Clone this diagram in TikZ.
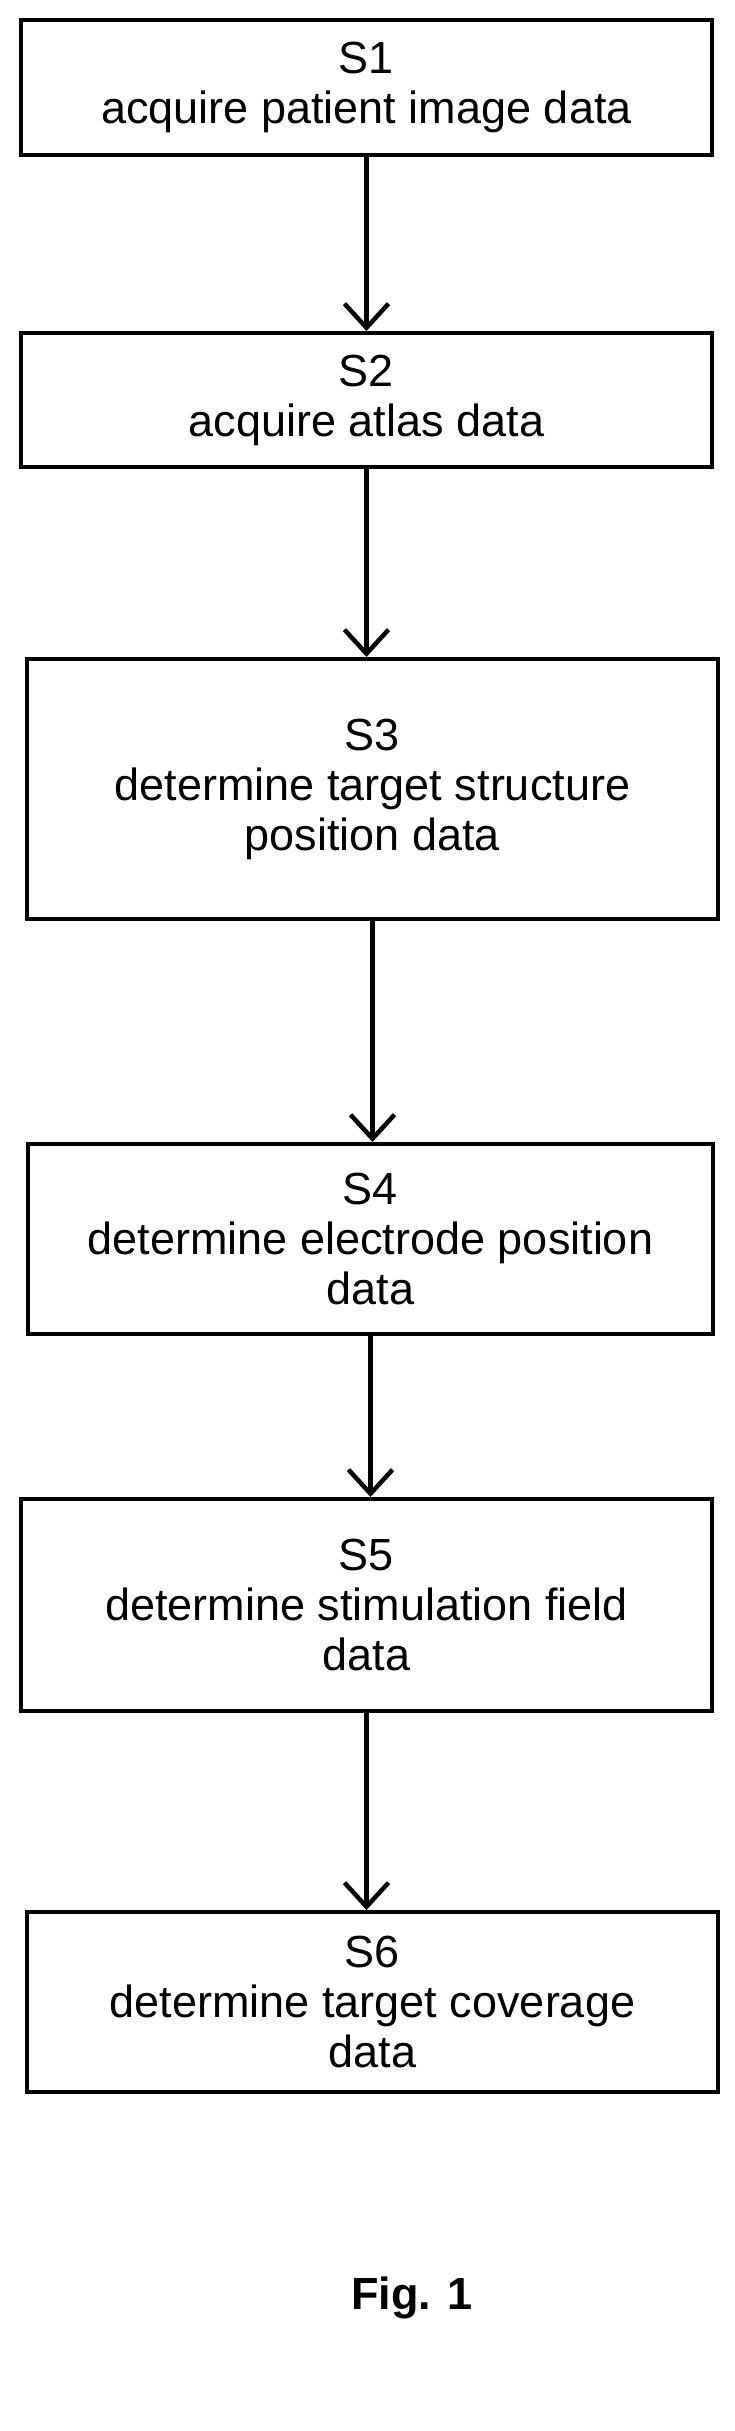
\documentclass[tikz,border=0pt]{standalone}
\usepackage{fontspec}
\setmainfont{Liberation Sans}
\usetikzlibrary{arrows.meta}
\begin{document}
\begin{tikzpicture}[x=1pt, y=-1pt,
  stepbox/.style={draw, line width=4pt, inner sep=0pt, minimum width=691pt,
    align=center, font=\fontsize{45}{50}\selectfont},
  flow/.style={line width=4.5pt, -{Straight Barb[length=24pt, width=44pt, line width=4.5pt]}}]

\useasboundingbox (0,0) rectangle (735,2431);

% Steps
\node [stepbox, minimum height=135pt] (s1) at ( 366.5, 87.5 ) {S1\\acquire patient image data};
\node [stepbox, minimum height=134pt] (s2) at ( 366.5, 400 ) {S2\\acquire atlas data};
\node [stepbox, minimum height=260pt] (s3) at ( 372.5, 789 ) {S3\\determine target structure\\position data};
\node [stepbox, minimum height=190pt, minimum width=685pt] (s4) at ( 370.5, 1239 ) {S4\\determine electrode position\\data};
\node [stepbox, minimum height=212pt] (s5) at ( 366.5, 1605 ) {S5\\determine stimulation field\\data};
\node [stepbox, minimum height=180pt] (s6) at ( 372.5, 2002 ) {S6\\determine target coverage\\data};

% Arrows
\draw [flow] (s1) -- (s1 |- s2.north);
\draw [flow] (s2) -- (s2 |- s3.north);
\draw [flow] (s3) -- (s3 |- s4.north);
\draw [flow] (s4) -- (s4 |- s5.north);
\draw [flow] (s5) -- (s5 |- s6.north);

% Caption
\node [font=\fontsize{45}{50}\selectfont\bfseries] (fig) at ( 412, 2298 ) {Fig. 1};

\end{tikzpicture}
\end{document}
